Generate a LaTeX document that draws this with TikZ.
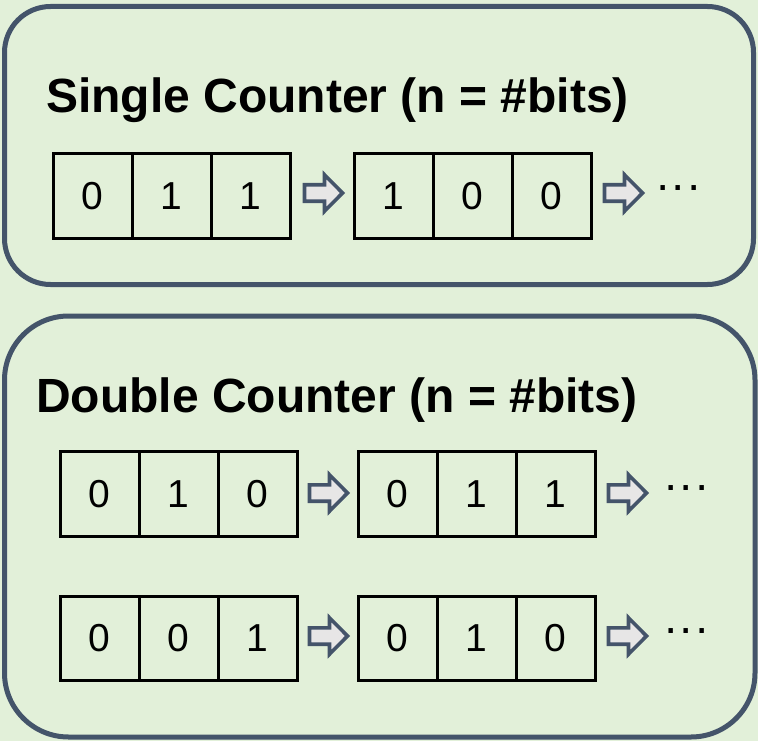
\documentclass[tikz,border=0pt]{standalone}
\usepackage{fontspec}
\setmainfont{Liberation Sans}
\usetikzlibrary{calc}
\definecolor{bgGreen}{HTML}{E2F0D9}
\definecolor{frameBlue}{HTML}{44546A}
\definecolor{arrowGray}{HTML}{E7E6E6}
\newcommand{\titlefont}{\fontsize{48}{56}\selectfont\bfseries}
\newcommand{\digitfont}{\fontsize{39}{44}\selectfont}
\newcommand{\dotsfont}{\fontsize{46}{50}\selectfont}
\begin{document}
\begin{tikzpicture}[x=1pt,y=-1pt,
  panel/.style={draw=frameBlue, fill=bgGreen, line width=5pt},
  cell/.style={draw=black, line width=3pt, minimum width=79pt, minimum height=85pt, inner sep=0pt, font=\digitfont},
  titletext/.style={anchor=base west, inner sep=0pt, font=\titlefont},
  moredots/.style={inner sep=0pt, font=\dotsfont},
  blockarrow/.pic={\draw[draw=frameBlue, fill=arrowGray, line width=3.6pt]
     (0,-8.2) -- (20,-8.2) -- (20,-18.2) -- (38,0) -- (20,18.2) -- (20,8.2) -- (0,8.2) -- cycle;}
]
\useasboundingbox (0,0) rectangle (758,741);
\fill[bgGreen] (0,0) rectangle (758,741);

% panels
\draw[panel, rounded corners=46pt] (4.5,6.5) rectangle (753.5,284.5);
\draw[panel, rounded corners=64pt] (4.5,316) rectangle (755,737);

% titles
\node[titletext] (t1) at (46,113) {Single Counter (n = \#bits)};
\node[titletext] (t2) at (36,412) {Double Counter (n = \#bits)};

% single counter row
\node[cell] (a1) at (92.5,196) {0};
\node[cell] (a2) at ($(a1)+(79,0)$) {1};
\node[cell] (a3) at ($(a2)+(79,0)$) {1};
\node[cell] (b1) at (393.5,196) {1};
\node[cell] (b2) at ($(b1)+(79,0)$) {0};
\node[cell] (b3) at ($(b2)+(79,0)$) {0};

% double counter row 1
\node[cell] (c1) at (99.5,494) {0};
\node[cell] (c2) at ($(c1)+(79,0)$) {1};
\node[cell] (c3) at ($(c2)+(79,0)$) {0};
\node[cell] (d1) at (397.5,494) {0};
\node[cell] (d2) at ($(d1)+(79,0)$) {1};
\node[cell] (d3) at ($(d2)+(79,0)$) {1};

% double counter row 2
\node[cell, minimum height=84pt] (e1) at (99.5,638) {0};
\node[cell, minimum height=84pt] (e2) at ($(e1)+(79,0)$) {0};
\node[cell, minimum height=84pt] (e3) at ($(e2)+(79,0)$) {1};
\node[cell, minimum height=84pt] (f1) at (397.5,638) {0};
\node[cell, minimum height=84pt] (f2) at ($(f1)+(79,0)$) {1};
\node[cell, minimum height=84pt] (f3) at ($(f2)+(79,0)$) {0};

% block arrows
\pic at ($(a3.east)+(13,-3)$) {blockarrow};
\pic at ($(b3.east)+(12,-3)$) {blockarrow};
\pic at ($(c3.east)+(11,-1)$) {blockarrow};
\pic at ($(d3.east)+(12,-1)$) {blockarrow};
\pic at ($(e3.east)+(11,-2)$) {blockarrow};
\pic at ($(f3.east)+(12,-2)$) {blockarrow};

% continuation dots
\node[moredots] (g1) at ($(b3.east)+(86,-3)$) {···};
\node[moredots] (g2) at ($(d3.east)+(90,-1)$) {···};
\node[moredots] (g3) at ($(f3.east)+(90,-2)$) {···};
\end{tikzpicture}
\end{document}
